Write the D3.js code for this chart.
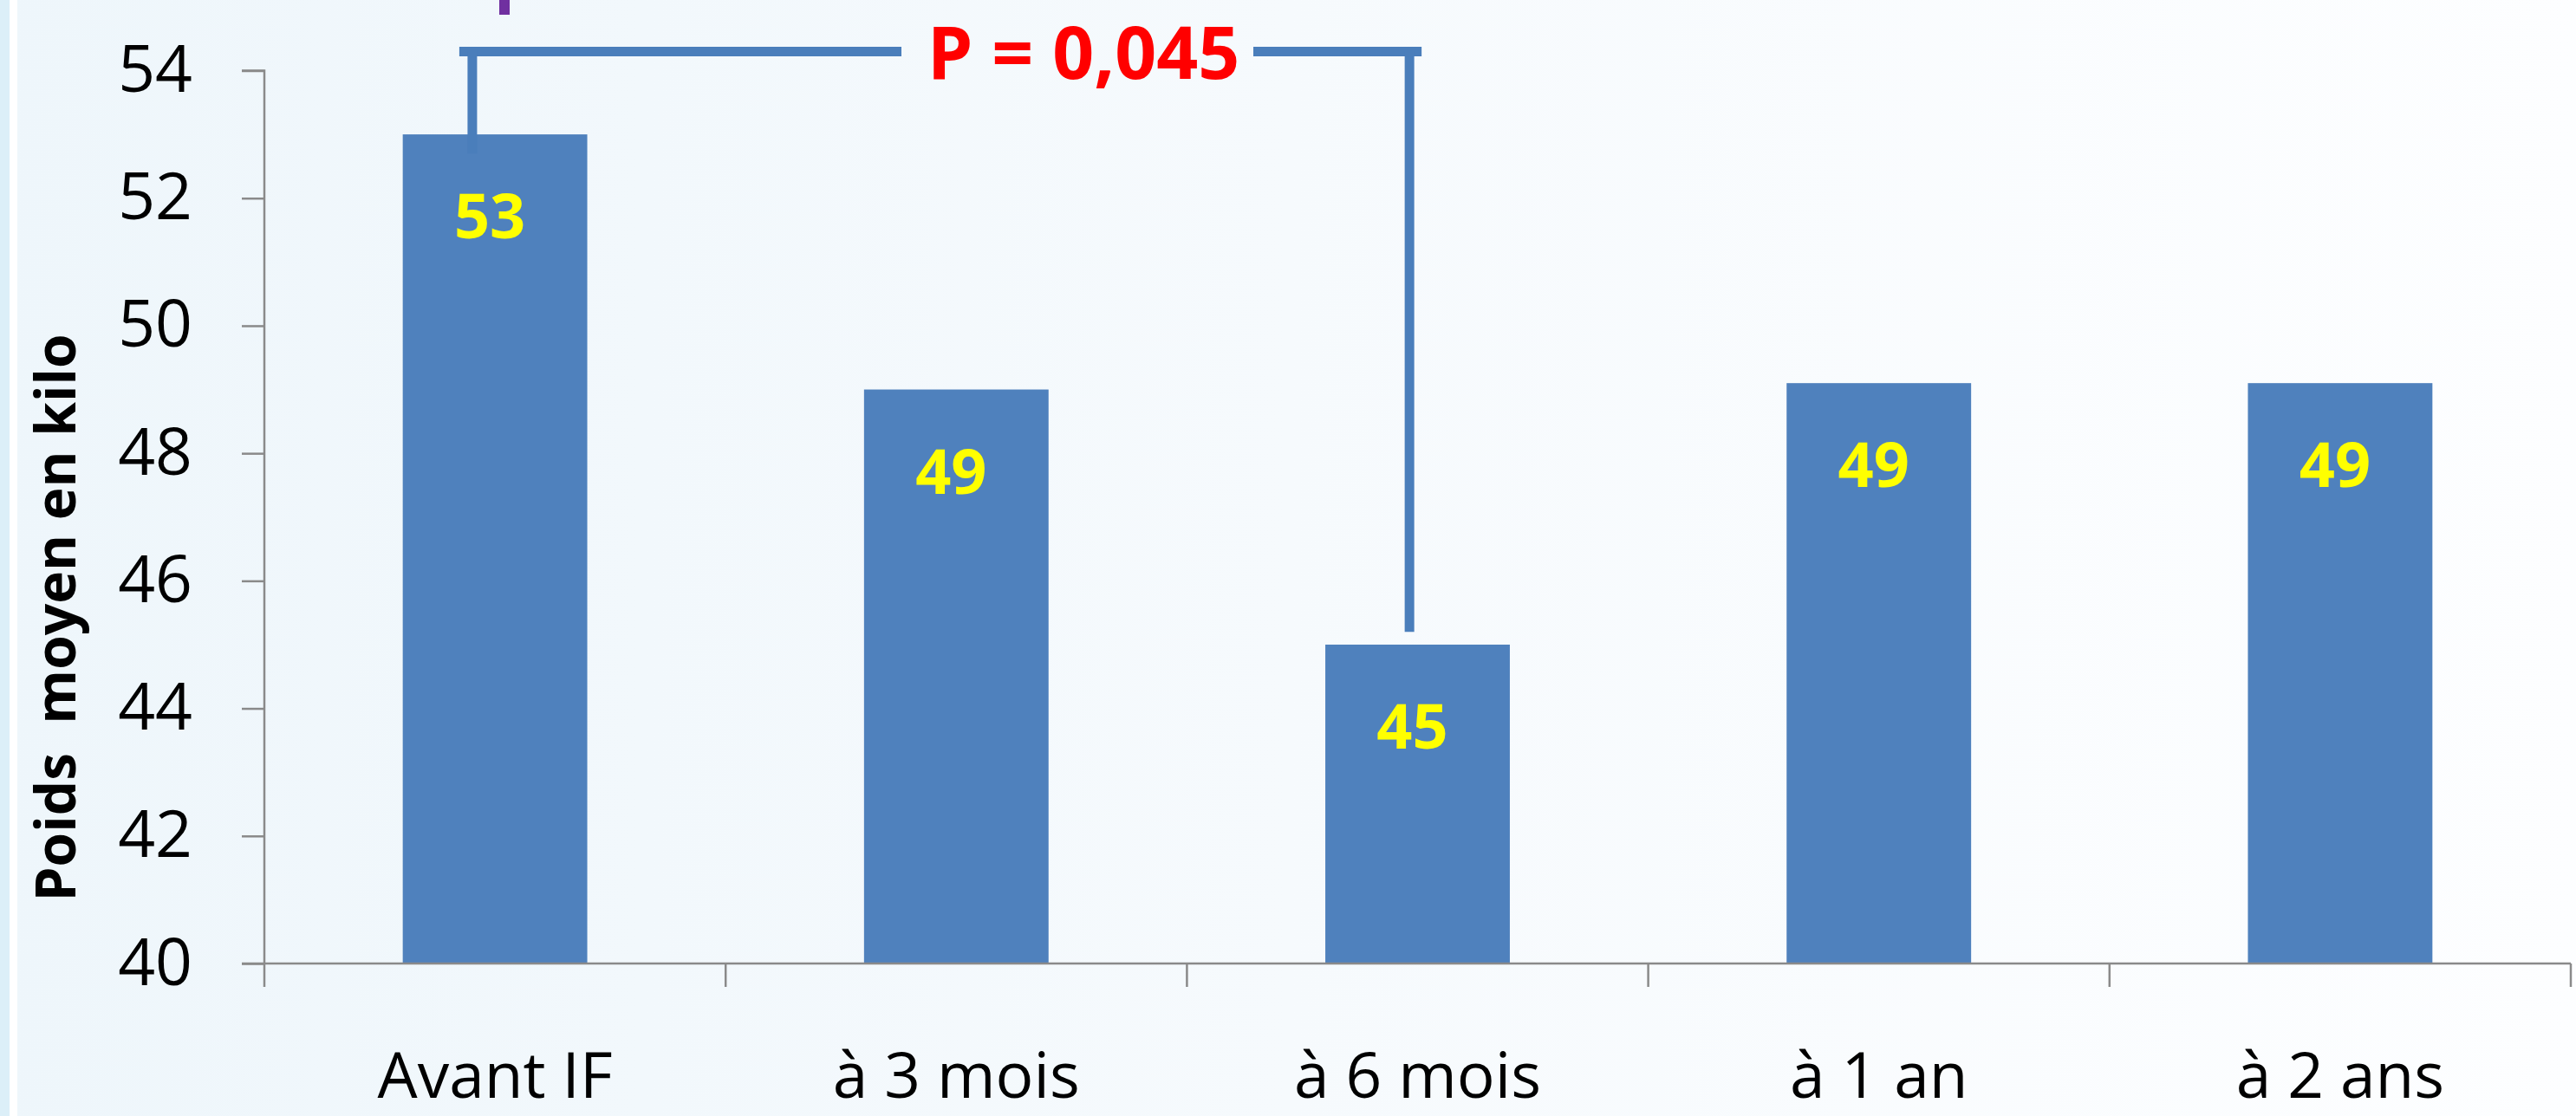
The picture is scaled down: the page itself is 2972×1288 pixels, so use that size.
<!DOCTYPE html>
<html>
<head>
<meta charset="utf-8">
<script src="https://cdn.jsdelivr.net/npm/d3@7"></script>
<style>
  html, body { margin: 0; padding: 0; background: #f6fafd; }
  svg { display: block; }
  text { font-family: "Open Sans", "Noto Sans", sans-serif; }
</style>
</head>
<body>
<svg id="chart" width="2972" height="1288"></svg>
<script>
// ---- data ----
const categories = ["Avant IF", "à 3 mois", "à 6 mois", "à 1 an", "à 2 ans"];
const values = [53, 49, 45, 49.1, 49.1];
const valueLabels = ["53", "49", "45", "49", "49"];
const yTicks = [40, 42, 44, 46, 48, 50, 52, 54];
const yTitle = "Poids  moyen en kilo";
const pText = "P = 0,045";
// comparison bracket: from category 0 to category 2, top at 54.3
const bracketCats = [0, 2];
const bracketTop = 54.3;
const bracketEnds = [52.7, 45.2];

// ---- layout ----
const W = 2972, H = 1288;
const svg = d3.select("#chart");

const defs = svg.append("defs");
const grad = defs.append("linearGradient").attr("id", "bg").attr("x1", "0").attr("x2", "1").attr("y1", "0").attr("y2", "0");
grad.append("stop").attr("offset", "0").attr("stop-color", "#eef6fb");
grad.append("stop").attr("offset", "0.5").attr("stop-color", "#f6fafd");
grad.append("stop").attr("offset", "1").attr("stop-color", "#fdfeff");

svg.append("rect").attr("width", W).attr("height", H).attr("fill", "url(#bg)");
// left edge strips
svg.append("rect").attr("x", 0).attr("y", 0).attr("width", 11).attr("height", H).attr("fill", "#dceff8");
svg.append("rect").attr("x", 11).attr("y", 0).attr("width", 9).attr("height", H).attr("fill", "#ffffff");

const x0 = 305, x1 = 2966, yBottom = 1112, yTop = 81.5;

const x = d3.scaleBand().domain(categories).range([x0, x1]).paddingInner(0.6).paddingOuter(0.3);
const y = d3.scaleLinear().domain([40, 54]).range([yBottom, yTop]);

const axisColor = "#8a8a8a";

// y axis
const yAxis = svg.append("g").attr("transform", `translate(${x0},0)`)
  .call(d3.axisLeft(y).tickValues(yTicks).tickSize(26).tickPadding(57).tickFormat(d3.format("d")));
yAxis.select(".domain").attr("stroke", axisColor).attr("stroke-width", 2.5).attr("d", `M-26,${y(54)}H0V${y(40)}`);
yAxis.selectAll(".tick line").attr("stroke", axisColor).attr("stroke-width", 2.5);
yAxis.selectAll(".tick text").attr("fill", "#000").attr("font-size", 75)
  .style("font-family", '"Open Sans", sans-serif');

// bars
svg.append("g").selectAll("rect").data(values).join("rect")
  .attr("x", (d, i) => x(categories[i]))
  .attr("y", d => y(d))
  .attr("width", x.bandwidth())
  .attr("height", d => y(40) - y(d))
  .attr("fill", "#4f81bd");

// x axis line & boundary ticks
svg.append("line").attr("x1", x0 - 26).attr("x2", x1).attr("y1", yBottom).attr("y2", yBottom)
  .attr("stroke", axisColor).attr("stroke-width", 2.5);
const bounds = d3.range(categories.length + 1).map(i => x0 + i * x.step());
svg.append("g").selectAll("line").data(bounds).join("line")
  .attr("x1", d => d).attr("x2", d => d).attr("y1", yBottom).attr("y2", yBottom + 27)
  .attr("stroke", axisColor).attr("stroke-width", 2.5);

// x labels
svg.append("g").selectAll("text").data(categories).join("text")
  .attr("x", d => x(d) + x.bandwidth() / 2)
  .attr("y", 1267)
  .attr("text-anchor", "middle")
  .attr("font-size", 73)
  .attr("fill", "#000")
  .text(d => d);

// value labels
svg.append("g").selectAll("text").data(values).join("text")
  .attr("x", (d, i) => x(categories[i]) + x.bandwidth() / 2 - 6)
  .attr("y", d => y(d) + 120)
  .attr("text-anchor", "middle")
  .attr("font-size", 72)
  .attr("font-weight", "bold")
  .attr("fill", "#ffff00")
  .text((d, i) => valueLabels[i]);

// y title
svg.append("text")
  .attr("transform", `translate(87,713) rotate(-90)`)
  .attr("text-anchor", "middle")
  .attr("font-size", 64)
  .attr("font-weight", "bold")
  .attr("fill", "#000")
  .style("white-space", "pre")
  .text(yTitle);

// bracket
const bColor = "#4a7ebb", bW = 11;
const bxL = x(categories[bracketCats[0]]) + x.bandwidth() * 0.377;
const bxR = x(categories[bracketCats[1]]) + x.bandwidth() * 0.456;
const by = y(bracketTop);
const textCx = 1250;
const gapL = 1040, gapR = 1446;
const br = svg.append("g").attr("stroke", bColor).attr("stroke-width", bW).attr("fill", "none");
br.append("line").attr("x1", bxL - 15).attr("x2", gapL).attr("y1", by).attr("y2", by);
br.append("line").attr("x1", gapR).attr("x2", bxR + 14).attr("y1", by).attr("y2", by);
br.append("line").attr("x1", bxL).attr("x2", bxL).attr("y1", by).attr("y2", y(bracketEnds[0]));
br.append("line").attr("x1", bxR).attr("x2", bxR).attr("y1", by).attr("y2", y(bracketEnds[1]));

svg.append("text")
  .attr("x", textCx).attr("y", 91)
  .attr("text-anchor", "middle")
  .attr("font-size", 84)
  .attr("font-weight", "bold")
  .attr("fill", "#ff0000")
  .text(pText);

// purple mark at top (cut-off element)
svg.append("rect").attr("x", 576).attr("y", 0).attr("width", 12).attr("height", 17).attr("fill", "#7030a0");
</script>
</body>
</html>
